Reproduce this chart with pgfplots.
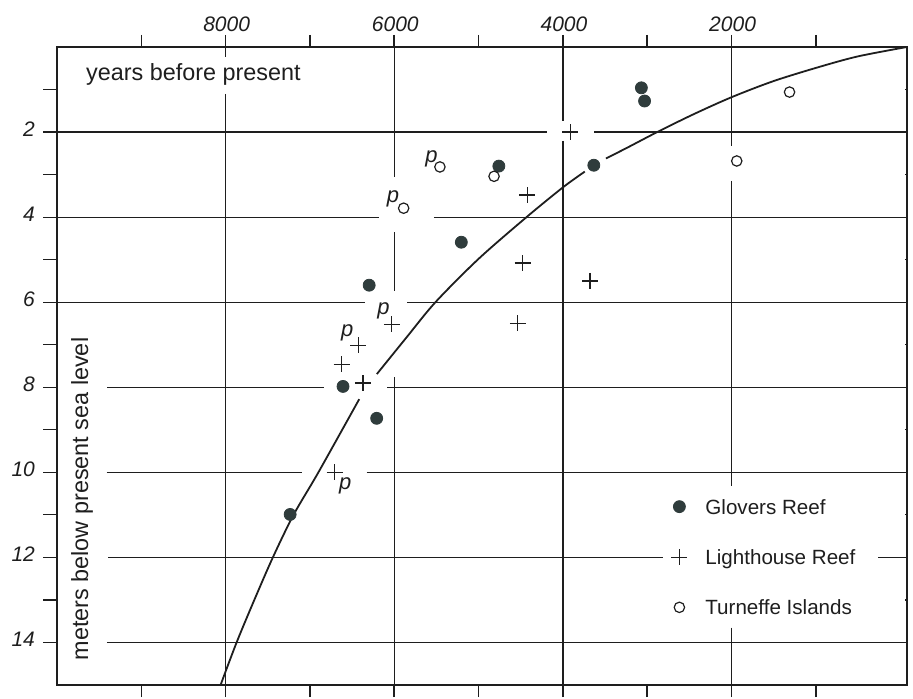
\documentclass[border=0pt]{standalone}
\usepackage{fontspec}
\setmainfont{Liberation Sans}
\usepackage{pgfplots}
\pgfplotsset{compat=1.18}
\definecolor{ink}{HTML}{1E1E1E}
\definecolor{glover}{HTML}{2F3C3C}
\begin{document}
\begin{tikzpicture}
\begin{axis}[
  scale only axis, width=425pt, height=319pt,
  xmin=-80, xmax=10000, x dir=reverse,
  ymin=0, ymax=15, y dir=reverse,
  clip=false,
  scaled x ticks=false, scaled y ticks=false,
  axis line style={ink, line width=0.9pt},
  tick align=outside,
  major tick length=6pt, minor tick length=6pt,
  xtick={2000,4000,6000,8000}, xticklabels={2000,4000,6000,8000},
  minor xtick={1000,3000,5000,7000,9000},
  xtick pos=both, xticklabel pos=upper,
  xtick style={ink, line width=0.8pt},
  xticklabel style={font=\fontsize{10.5}{12}\selectfont\itshape, text=ink, yshift=-2pt, xshift=0.5pt},
  ytick={2,4,6,8,10,12,14}, yticklabels={2,4,6,8,10,12,14},
  ytick pos=left,
  ytick style={draw=none},
  yticklabel style={font=\fontsize{10.5}{12}\selectfont\itshape, text=ink, xshift=-1.5pt, yshift=1.5pt},
  xlabel={years before present},
  xlabel style={at={(rel axis cs:0.0259,0.9467)}, anchor=base west, font=\fontsize{11.7}{14}\selectfont, text=ink},
  ylabel={meters below present sea level},
  ylabel style={at={(rel axis cs:0.0365,0.2915)}, anchor=base, font=\fontsize{11.7}{14}\selectfont, text=ink},
  legend style={draw=none, fill=none, at={(rel axis cs:0.7153,0.2979)}, anchor=north west,
    font=\fontsize{10.3}{12}\selectfont, text=ink, row sep=15.5pt, column sep=9pt,
    nodes={inner sep=0pt, text height=7.4pt, text depth=2.1pt}},
  legend cell align=left,
  legend image code/.code={\draw[#1] plot coordinates {(0pt,1.1pt)};},
]
% grid lines with the gaps of the original
\begin{scope}[ink, line width=0.6pt]
\draw (axis cs:10000,2) -- (axis cs:4187,2);  \draw (axis cs:3629,2) -- (axis cs:-80,2);
\draw (axis cs:10000,4) -- (axis cs:6183,4);  \draw (axis cs:5531,4) -- (axis cs:-80,4);
\draw (axis cs:10000,6) -- (axis cs:6342,6);  \draw (axis cs:5844,6) -- (axis cs:-80,6);
\draw (axis cs:10000,8) -- ++(3.5pt,0); \draw (axis cs:9406,8) -- (axis cs:6833,8); \draw (axis cs:6086,8) -- (axis cs:-80,8);
\draw (axis cs:10000,10) -- ++(3pt,0); \draw (axis cs:9411,10) -- (axis cs:7099,10); \draw (axis cs:6328,10) -- (axis cs:-80,10);
\draw (axis cs:9392,12) -- (axis cs:2811,12); \draw (axis cs:262,12) -- (axis cs:-80,12);
\draw (axis cs:10000,14) -- ++(2.5pt,0); \draw (axis cs:9409,14) -- (axis cs:-80,14);
\draw (axis cs:8000,0) -- (axis cs:8000,0.24); \draw (axis cs:8000,1.1) -- (axis cs:8000,15);
\draw (axis cs:6000,0) -- (axis cs:6000,3.06); \draw (axis cs:6000,4.35) -- (axis cs:6000,5.74); \draw (axis cs:6000,7.76) -- (axis cs:6000,15);
\draw (axis cs:4000,0) -- (axis cs:4000,1.74); \draw (axis cs:4000,2.21) -- (axis cs:4000,15);
\draw (axis cs:2000,0) -- (axis cs:2000,2.33); \draw (axis cs:2000,3.15) -- (axis cs:2000,10.33); \draw (axis cs:2000,13.65) -- (axis cs:2000,15);
\pgfplotsinvokeforeach{1,2,...,14}{\draw (axis cs:10000,#1) -- ++(-3.5pt,0);}
\pgfplotsinvokeforeach{1,3,...,13}{\draw (axis cs:-80,#1) -- ++(2.5pt,0);}
\end{scope}

\addplot[only marks, mark=*, mark size=3pt, color=glover, mark options={fill=glover, draw=glover}]
coordinates {(3070,0.96) (3032,1.27) (3634,2.78) (4760,2.80) (5205,4.59) (6298,5.60) (6608,7.98) (6209,8.73) (7235,10.99)};
\addlegendentry{Glovers Reef}
\addplot[only marks, mark=+, mark size=4pt, color=ink, mark options={line width=0.6pt}]
coordinates {(3914,2.00) (4421,3.48) (4477,5.08) (3679,5.50) (4535,6.50) (6029,6.52) (6428,7.01) (6624,7.46) (6372,7.90) (6707,10.00)};
\addlegendentry{Lighthouse Reef}
\addplot[only marks, mark=o, mark size=2.6pt, color=ink, mark options={line width=0.6pt, fill=white}]
coordinates {(1313,1.06) (1939,2.68) (4817,3.04) (5459,2.82) (5889,3.79)};
\addlegendentry{Turneffe Islands}

% sea-level curve, broken where it passes two points
\addplot[ink, line width=0.9pt, smooth, forget plot] coordinates {
(-80,0) (500,0.22) (963,0.47) (1500,0.80) (2000,1.18) (2450,1.58) (2882,2.00) (3250,2.38) (3490,2.62)};
\addplot[ink, line width=0.9pt, smooth, forget plot] coordinates {
(3741,2.93) (4000,3.30) (4432,4.00) (5000,4.98) (5512,6.00) (5860,6.84) (6207,7.69)};
\addplot[ink, line width=0.9pt, smooth, forget plot] coordinates {
(6416,8.28) (6900,10.0) (7195,11.0) (7440,12.0) (7660,13.0) (7870,14.0) (8060,15.0)};

\begin{scope}[font=\fontsize{11}{13}\selectfont\itshape, text=ink]
\node at (axis cs:5459,2.82) [xshift=-4.2pt, yshift=4.2pt] {p};
\node at (axis cs:5889,3.79) [xshift=-5.3pt, yshift=4.7pt] {p};
\node at (axis cs:6029,6.52) [xshift=-4.2pt, yshift=6.7pt] {p};
\node at (axis cs:6428,7.01) [xshift=-5.5pt, yshift=6.3pt] {p};
\node at (axis cs:6707,10.0) [xshift=5.3pt, yshift=-6.7pt] {p};
\end{scope}
\end{axis}
\pgfresetboundingbox
\path[use as bounding box] ([xshift=-28.5pt,yshift=-7pt]current axis.south west) rectangle ([xshift=3pt,yshift=23.5pt]current axis.north east);
\end{tikzpicture}
\end{document}
